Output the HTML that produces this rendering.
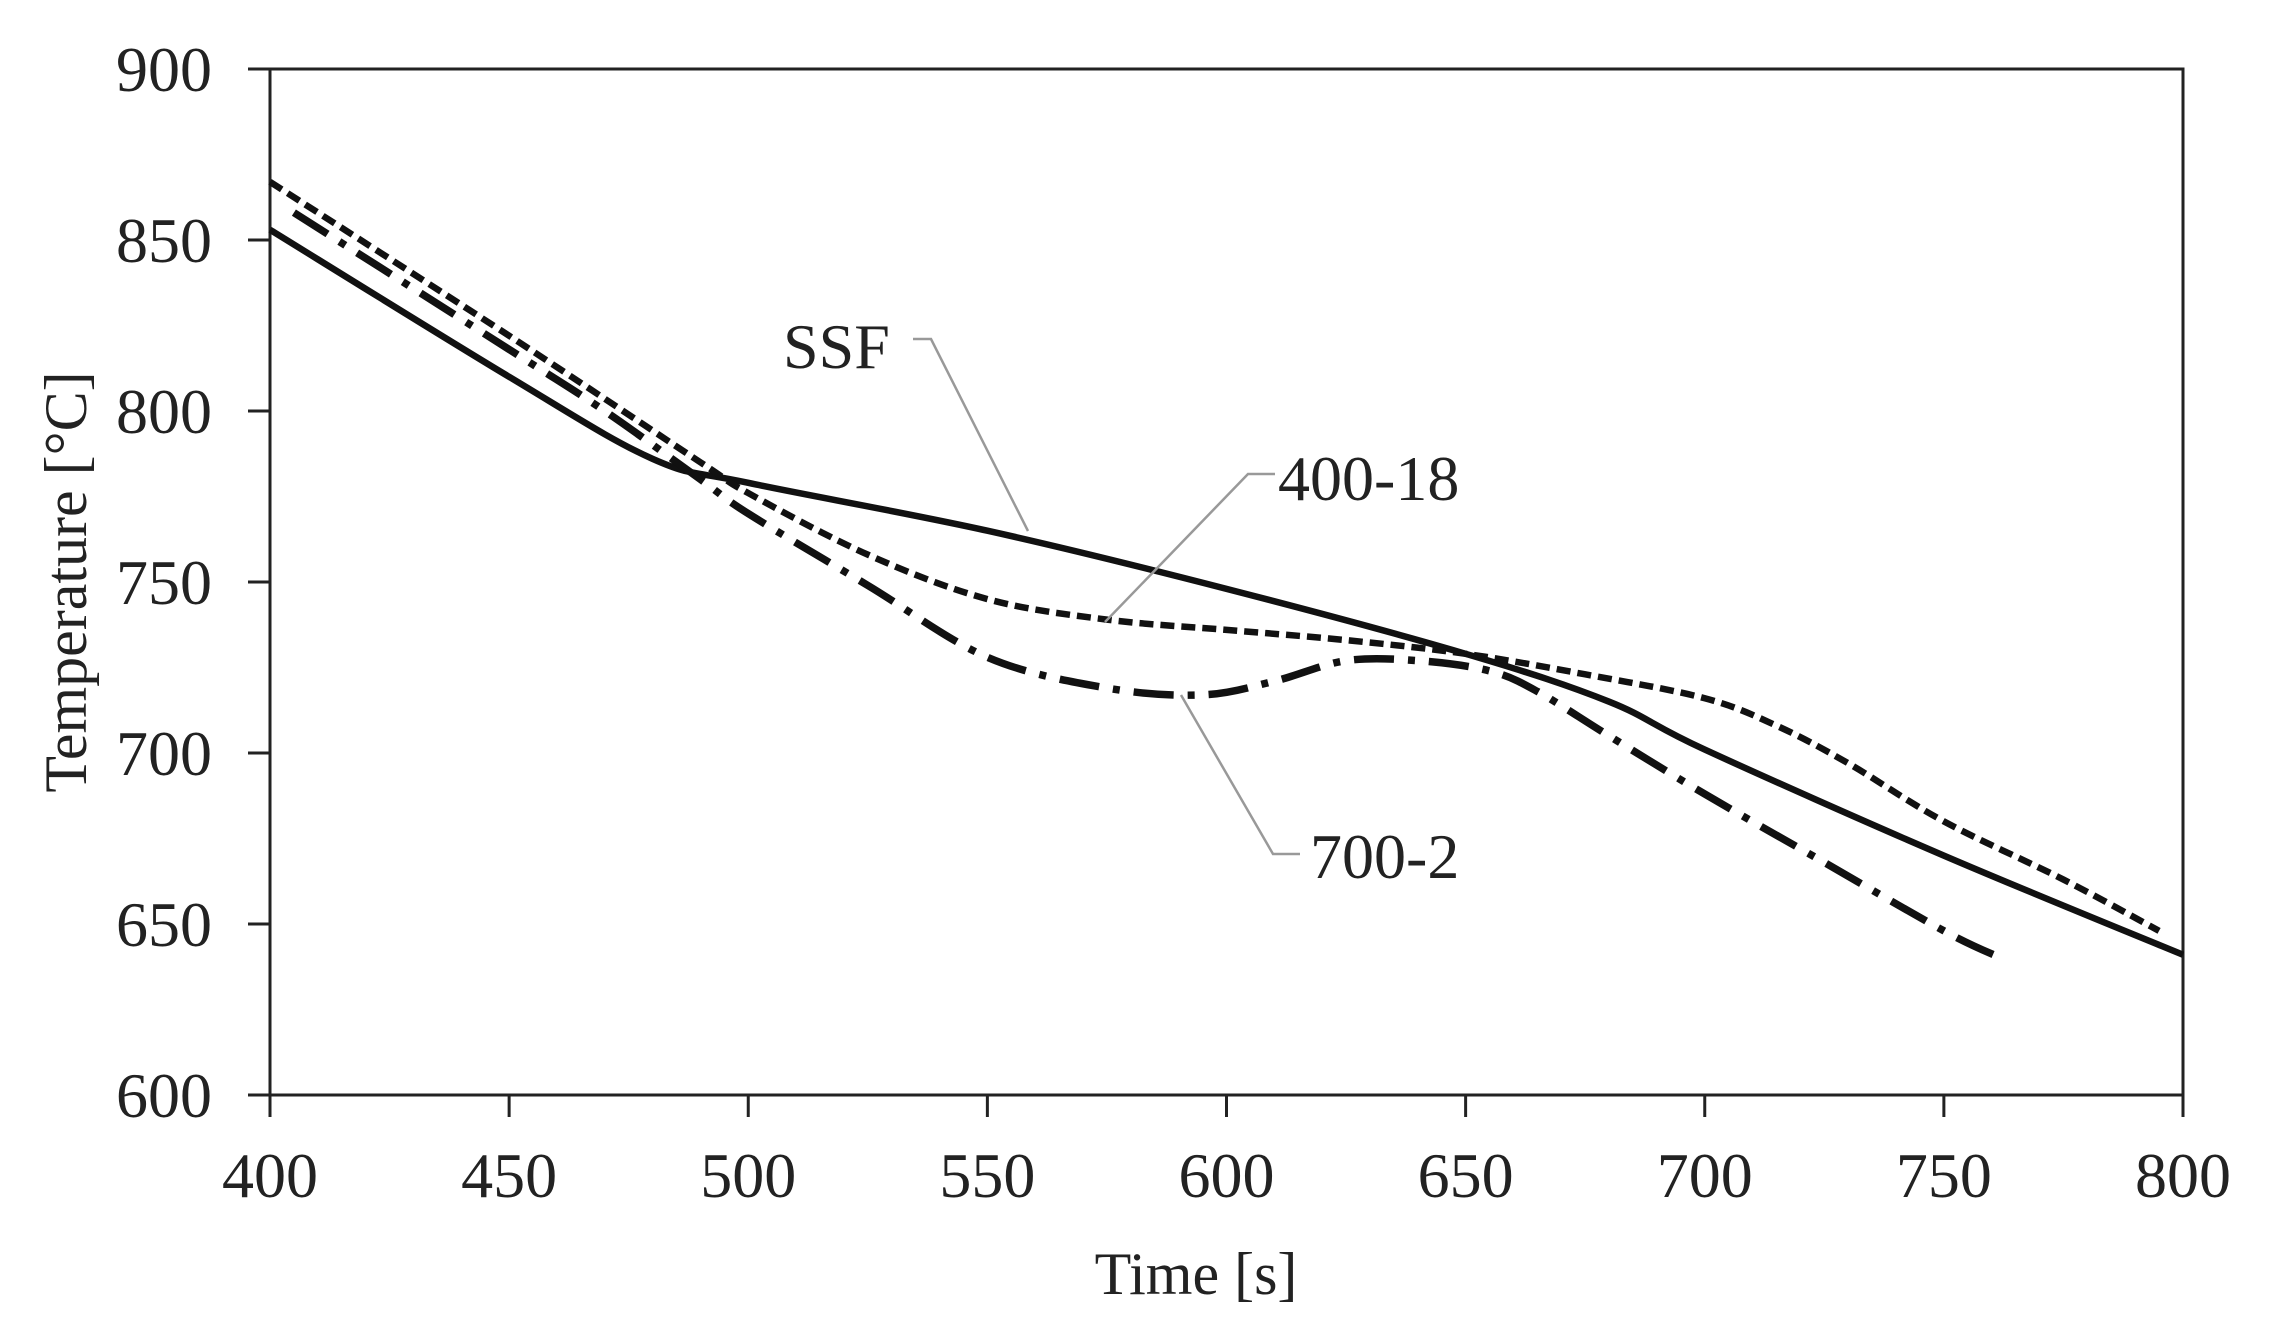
<!DOCTYPE html>
<html><head><meta charset="utf-8"><style>
html,body{margin:0;padding:0;background:#fff;}
svg{display:block;}
text{font-family:"Liberation Serif",serif;fill:#222;}
</style></head><body>
<svg id="chart" width="2269" height="1339" viewBox="0 0 2269 1339">
<g id="axes"></g><g id="series"></g><g id="labels"></g>
</svg>
<script>
const xTicks=[400,450,500,550,600,650,700,750,800];
const yTicks=[600,650,700,750,800,850,900];
const ssfT=[400,450,480,500,550,600,650,680,700,750,800];
const ssfV=[853,810,786,779,765,748,729,715,701,670,641];
const d400T=[400,450,490,500,525,550,575,600,625,650,675,700,715,730,750,775,795];
const d400V=[867,822,785,776,758,745,739,736,733,729,723,716,708,697,680,663,648];
const d700T=[405,450,470,490,500,525,550,575,595,610,625,640,655,665,680,700,725,750,762];
const d700V=[858,818,800,780,770,749,728,719,717,721,727,727,724,718,705,688,668,648,640];
const L=270,R=2183,T=69,B=1095;
const xs=v=>L+(v-400)/400*(R-L);
const ys=v=>B-(v-600)/300*(B-T);
const NS="http://www.w3.org/2000/svg";
function mk(tag,attrs,parent){const e=document.createElementNS(NS,tag);for(const k in attrs)e.setAttribute(k,attrs[k]);parent.appendChild(e);return e;}
const ax=document.getElementById('axes'),se=document.getElementById('series'),lb=document.getElementById('labels');
const frame=mk('rect',{x:L,y:T,width:R-L,height:B-T,fill:'none',stroke:'#222','stroke-width':3},ax);


xTicks.forEach(v=>{
 const t=mk('line',{x1:xs(v),x2:xs(v),y1:B,y2:B+22,stroke:'#222','stroke-width':3},ax);
 
 
 const tx=mk('text',{x:xs(v),y:B+102,'font-size':64,'text-anchor':'middle'},ax);
 tx.textContent=v;
 
 
});
yTicks.forEach(v=>{
 const t=mk('line',{x1:L-22,x2:L,y1:ys(v),y2:ys(v),stroke:'#222','stroke-width':3},ax);
 
 
 const tx=mk('text',{x:L-58,y:ys(v)+22,'font-size':64,'text-anchor':'end'},ax);
 tx.textContent=v;
 
 
});
function path(ts,vs){
 const p=ts.map((t,i)=>[xs(t),ys(vs[i])]);
 let d='M'+p[0][0]+','+p[0][1];
 for(let i=0;i<p.length-1;i++){
  const p0=p[i-1]||p[i],p1=p[i],p2=p[i+1],p3=p[i+2]||p2;
  d+=' C'+(p1[0]+(p2[0]-p0[0])/6)+','+(p1[1]+(p2[1]-p0[1])/6)+' '+(p2[0]-(p3[0]-p1[0])/6)+','+(p2[1]-(p3[1]-p1[1])/6)+' '+p2[0]+','+p2[1];
 }
 return d;
}
const s1=mk('path',{d:path(ssfT,ssfV),fill:'none',stroke:'#111','stroke-width':6.5},se);


const s2=mk('path',{d:path(d400T,d400V),fill:'none',stroke:'#111','stroke-width':6.5,'stroke-dasharray':'14 7'},se);


const s3=mk('path',{d:path(d700T,d700V),fill:'none',stroke:'#111','stroke-width':7.5,'stroke-dasharray':'40 14 7 14'},se);


function leader(pts,name){
 const l=mk('polyline',{points:pts,fill:'none',stroke:'#999','stroke-width':2.5},lb);
 
 
}
leader('913,339 931,339 1028,531','ssf-leader');
leader('1275,474 1248,474 1105,622','400-18-leader');
leader('1300,854 1273,854 1181,695','700-2-leader');
function lab(x,y,txt,name){
 const t=mk('text',{x:x,y:y,'font-size':64},lb);
 t.textContent=txt;
 
 
}
lab(783,368,'SSF','ssf-label');
lab(1278,500,'400-18','400-18-label');
lab(1310,878,'700-2','700-2-label');
const xt=mk('text',{x:1196,y:1294,'font-size':60,'text-anchor':'middle'},lb);
xt.textContent='Time [s]';


const yt=mk('text',{x:0,y:0,'font-size':60,'text-anchor':'middle',transform:'translate(86,582) rotate(-90)'},lb);
yt.textContent='Temperature  [°C]';


</script>
</body></html>
